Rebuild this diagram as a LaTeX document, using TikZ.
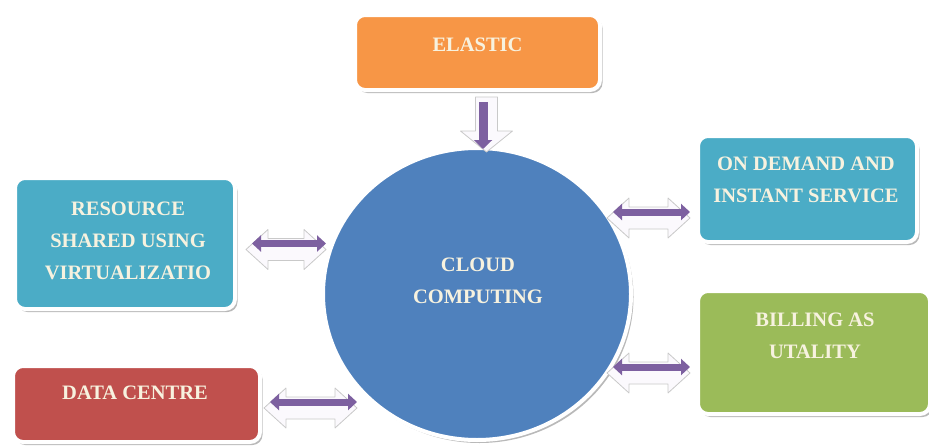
\documentclass[tikz,border=0pt]{standalone}
\usepackage{fontspec}
\setmainfont{Liberation Serif}
\usetikzlibrary{shapes.geometric,shadows,calc,arrows.meta}

\definecolor{orangebox}{HTML}{F79646}
\definecolor{tealbox}{HTML}{4BACC6}
\definecolor{greenbox}{HTML}{9BBB59}
\definecolor{redbox}{HTML}{C0504D}
\definecolor{bluehub}{HTML}{4F81BD}
\definecolor{purplearrow}{HTML}{7D60A0}
\definecolor{ivorytext}{HTML}{F7F2DF}
\definecolor{backedge}{HTML}{C9C9C9}
\definecolor{backfill}{HTML}{FBF9FD}

% horizontal two-headed arrow: purple top face over a white bevelled body
\newcommand\bevelpair[2]{%
  \filldraw[backarrow] let \p1=(#1), \p2=(#2) in
    (\x1-6pt,\y1-6pt) -- (\x1+16pt,\y1+14pt) -- (\x1+16pt,\y1+5pt)
    -- (\x2-22pt,\y1+5pt) -- (\x2-22pt,\y1+14pt) -- (\x2,\y1-6pt)
    -- (\x2-22pt,\y1-26pt) -- (\x2-22pt,\y1-17pt) -- (\x1+16pt,\y1-17pt)
    -- (\x1+16pt,\y1-26pt) -- cycle;
  \draw[purplepair] (#1) -- (#2);
}

\begin{document}
\begin{tikzpicture}[x=1pt,y=-1pt,
  box/.style={draw=white, line width=4pt, rounded corners=10pt, inner sep=0pt,
    drop shadow={shadow xshift=2.5pt, shadow yshift=-3pt, fill=black!50, opacity=.55}},
  hub/.style={ellipse, draw=white, line width=4pt, fill=bluehub, inner sep=0pt,
    minimum width=308pt, minimum height=292pt,
    drop shadow={shadow xshift=2.5pt, shadow yshift=-3pt, fill=black!50, opacity=.55}},
  lbl/.style={text=ivorytext, align=center, inner sep=0pt,
    font=\fontsize{20.5}{32}\selectfont\bfseries},
  backarrow/.style={fill=backfill, draw=backedge, line width=.8pt, line join=round},
  purplepair/.style={draw=purplearrow, line width=7pt,
    {Triangle[length=9pt,width=16pt]}-{Triangle[length=9pt,width=16pt]}},
  purpleone/.style={draw=purplearrow, line width=9pt,
    -{Triangle[length=9pt,width=18pt]}}]

\useasboundingbox (0,0) rectangle (929,447);

% central hub
\node[hub] (cc) at (477,294) {};
\node[lbl] (cct) at (478,281) {CLOUD\\COMPUTING};

% surrounding feature boxes
\node[box, fill=orangebox, minimum width=245pt, minimum height=75pt] (elastic) at (477.5,52.5) {};
\node[lbl] (elastict) at (477.5,45) {ELASTIC};

\node[box, fill=tealbox, minimum width=220pt, minimum height=131pt] (res) at (125,243.5) {};
\node[lbl] (rest) at (128,241) {RESOURCE\\SHARED USING\\VIRTUALIZATIO};

\node[box, fill=tealbox, minimum width=219pt, minimum height=106pt] (od) at (807.5,189) {};
\node[lbl] (odt) at (806,180) {ON DEMAND AND\\INSTANT SERVICE};

\node[box, fill=greenbox, minimum width=232pt, minimum height=123pt] (bill) at (814,352.5) {};
\node[lbl] (billt) at (815,336) {BILLING AS\\UTALITY};

\node[box, fill=redbox, minimum width=247pt, minimum height=76pt] (dc) at (136.5,404) {};
\node[lbl] (dct) at (135,393) {DATA CENTRE};

% arrow end points
\coordinate (elA) at ([xshift=5.5pt,yshift=-10pt]elastic.south);
\coordinate (elB) at ($(elA |- cc.north)+(0,3)$);
\coordinate (resA) at ([xshift=15pt]res.east);
\coordinate (resB) at ($(res.east -| cc.west)+(5,0)$);
\coordinate (dcA) at ([xshift=8pt,yshift=2pt]dc.east);
\coordinate (dcB) at ($(dcA)+(87,0)$);
\coordinate (odB) at ([xshift=-6pt,yshift=-23pt]od.west);
\coordinate (odA) at ($(odB)-(77,0)$);
\coordinate (billB) at ([xshift=-6pt,yshift=-14.5pt]bill.west);
\coordinate (billA) at ($(billB)-(77,0)$);

% elastic -> hub
\filldraw[backarrow] let \p1=(elA), \p2=(elB) in
  (\x1+3.5pt-11pt,\y1+5pt) -- (\x1+3.5pt+11pt,\y1+5pt) -- (\x1+3.5pt+11pt,\y2+18pt)
  -- (\x1+3.5pt+26pt,\y2+18pt) -- (\x1+3.5pt,\y2-3pt) -- (\x1+3.5pt-26pt,\y2+18pt)
  -- (\x1+3.5pt-11pt,\y2+18pt) -- cycle;
\draw[purpleone] (elA) -- (elB);

% two-way links
\bevelpair{resA}{resB}
\bevelpair{dcA}{dcB}
\bevelpair{odA}{odB}
\bevelpair{billA}{billB}

\end{tikzpicture}
\end{document}
